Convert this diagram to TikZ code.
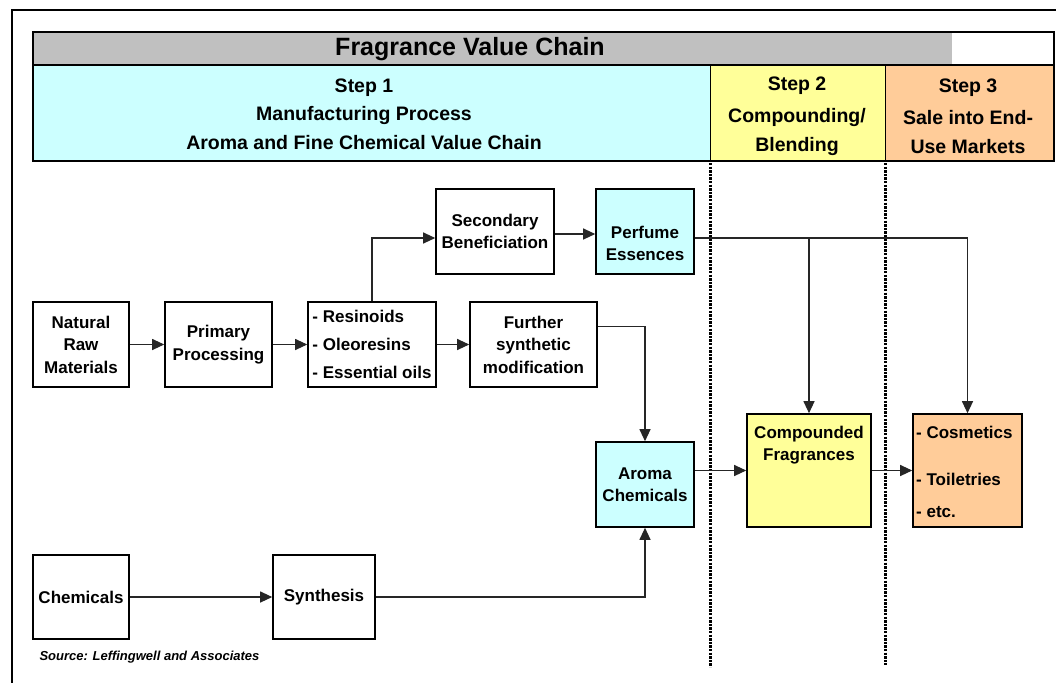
\documentclass[tikz,border=0pt]{standalone}
\usepackage{fontspec}
\setmainfont{Liberation Sans}
\usetikzlibrary{arrows.meta,positioning}

\definecolor{stepcyan}{HTML}{CCFFFF}
\definecolor{stepyellow}{HTML}{FFFF99}
\definecolor{steporange}{HTML}{FFCC99}
\definecolor{headgray}{HTML}{C0C0C0}

\begin{document}
\begin{tikzpicture}[x=1pt, y=-1pt,
    box/.style={draw, line width=1.6pt, align=center, inner sep=2pt,
        minimum height=85pt, font=\fontsize{17}{22.5}\selectfont\bfseries},
    boxtext/.style={inner sep=0pt, font=\fontsize{17}{22}\selectfont\bfseries},
    steptext/.style={align=center, font=\fontsize{19.5}{28.5}\selectfont\bfseries},
    arr/.style={-{Triangle[length=12pt,width=11pt]}, line width=1.1pt, draw=black!85},
    link/.style={line width=1.1pt, draw=black!85},
    divider/.style={line width=3pt, dash pattern=on 2.4pt off 1.2pt}]
    \useasboundingbox (0,0) rectangle (1056,683);

    % page frame
    \draw[line width=1.2pt] (1056,10) -- (12,10) -- (12,683);

    % header bands
    \fill[headgray] (33,33) rectangle (952,64);
    \fill[stepcyan] (33,66) rectangle (710,161);
    \fill[stepyellow] (710,66) rectangle (885,161);
    \fill[steporange] (885,66) rectangle (1054,161);
    \draw[line width=2.6pt] (33,32) rectangle (1054,161);
    \draw[line width=2.6pt] (33,65) -- (1054,65);
    \draw[thick] (710,65) -- (710,161);
    \draw[thick] (885,65) -- (885,161);

    \node[font=\fontsize{25}{30}\selectfont\bfseries] (title) at (470,49) {Fragrance Value Chain};
    \node[steptext] (step1) at (364,114) {Step 1\\Manufacturing Process\\Aroma and Fine Chemical Value Chain};
    \node[steptext] (step2) at (797,116) {Step 2\\[4pt]Compounding/\\Blending};
    \node[steptext] (step3) at (968,116) {Step 3\\[4pt]Sale into End-\\Use Markets};

    % step boundaries
    \draw[divider] (710,163) -- (710,667);
    \draw[divider] (885,163) -- (885,665);

    % natural route
    \node[box, minimum width=96pt] (nat) at (81,344.5) {Natural\\Raw\\Materials};
    \node[box, minimum width=107pt] (prim) at (218.5,344.5) {Primary\\Processing};
    \node[box, minimum width=128pt, align=left, font=\fontsize{17}{28}\selectfont\bfseries] (res) at (372,344.5)
        {- Resinoids\\- Oleoresins\\- Essential oils};
    \node[box, minimum width=127pt] (fur) at (533.5,344.5) {Further\\synthetic\\modification};
    \node[box, minimum width=118pt] (sec) at (495,231.5) {Secondary\\Beneficiation};
    \node[box, minimum width=98pt, fill=stepcyan] (perf) at (645,231.5) {};
    \node[boxtext, align=center] (perftext) at ([yshift=-12pt]perf.center) {Perfume\\Essences};

    % synthetic route
    \node[box, minimum width=96pt, minimum height=84pt] (chem) at (81,597) {Chemicals};
    \node[box, minimum width=102pt, minimum height=84pt] (syn) at (324,597) {Synthesis};
    \node[box, minimum width=98pt, fill=stepcyan] (aroma) at (645,484.5) {Aroma\\Chemicals};

    % compounding and markets
    \node[box, minimum width=124pt, minimum height=113pt, fill=stepyellow] (comp) at (809,470.5) {};
    \node[boxtext, align=center, below=13pt of comp.north] (comptext) {Compounded\\Fragrances};
    \node[box, minimum width=109pt, minimum height=113pt, fill=steporange] (cos) at (967.5,470.5) {};
    \node[boxtext, align=left, anchor=north west] (costext) at (916,426)
        {- Cosmetics\\[25pt]- Toiletries\\[10pt]- etc.};

    \node[font=\fontsize{13}{16}\selectfont\bfseries\itshape, anchor=west] (src) at (36,657)
        {Source: Leffingwell and Associates};

    % connectors
    \draw[arr] (nat) -- (prim);
    \draw[arr] (prim) -- (res);
    \draw[arr] (res) -- (fur);
    \draw[arr] (res.north) |- ([yshift=-6.5pt]sec.west);
    \draw[arr] ([yshift=-2.5pt]sec.east) -- ([yshift=-2.5pt]perf.west);
    \draw[arr] ([yshift=18pt]fur.east) -| (aroma.north);
    \draw[arr] (chem) -- (syn);
    \draw[arr] (syn.east) -| (aroma.south);
    \draw[arr] (aroma.east |- comp.west) -- (comp.west);
    \draw[arr] (comp) -- (cos);

    \coordinate (pe) at ([yshift=-6.5pt]perf.east);
    \draw[link] (pe) -- (pe -| cos.north);
    \draw[arr] (pe -| comp.north) -- (comp.north);
    \draw[arr] (pe -| cos.north) -- (cos.north);
\end{tikzpicture}
\end{document}
